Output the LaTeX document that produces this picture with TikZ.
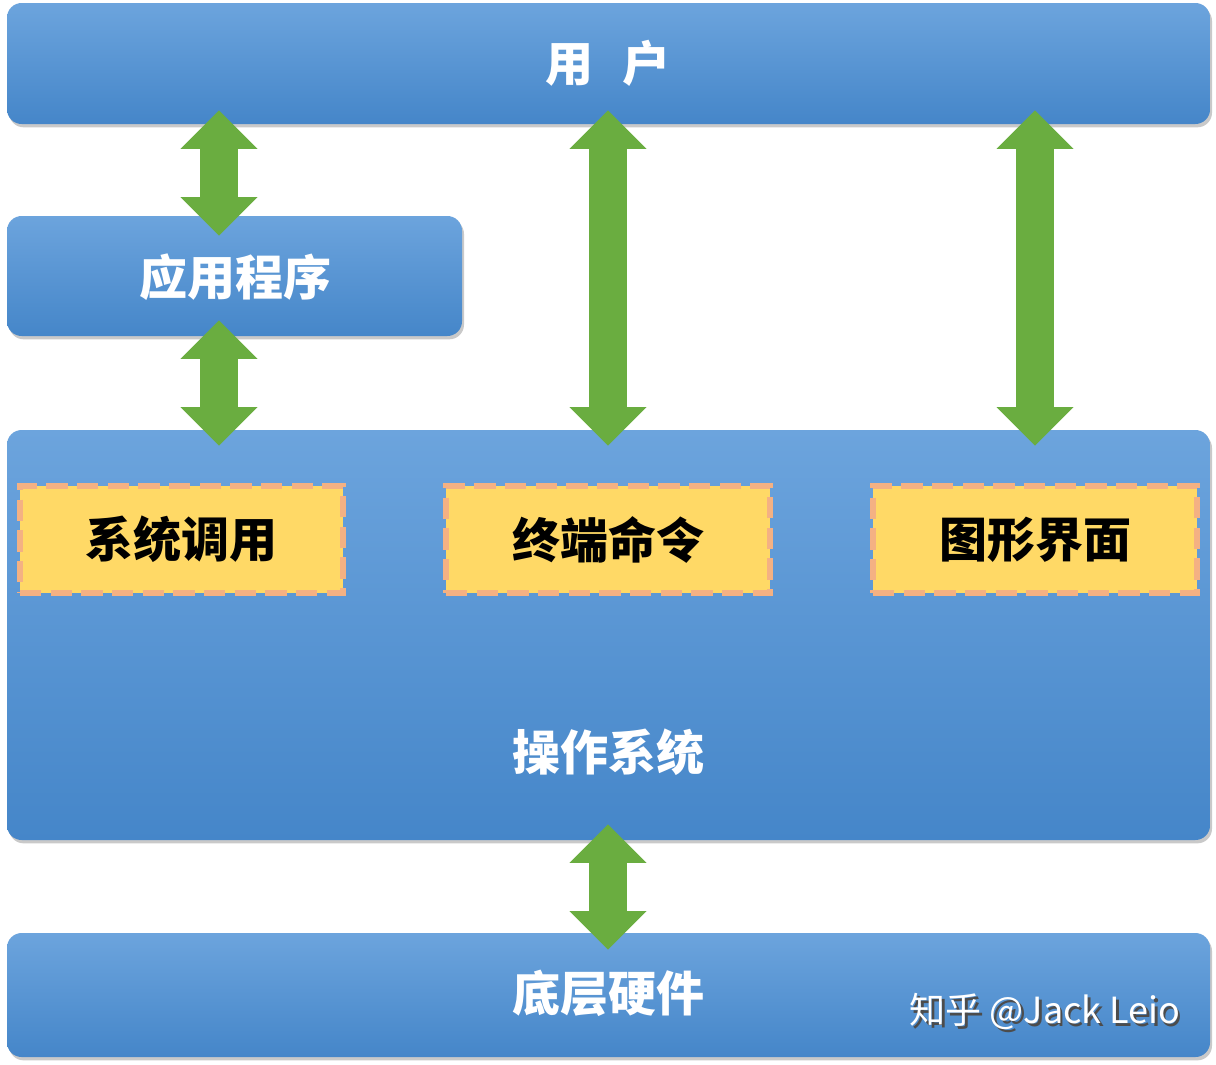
\documentclass[tikz,border=0pt]{standalone}
\usepackage{fontspec}
\newfontfamily\cjk{Noto Sans CJK SC}
\usetikzlibrary{arrows.meta,shadows,fit,calc}
\definecolor{bluetop}{HTML}{6CA4DD}
\definecolor{bluebot}{HTML}{4586C9}
\definecolor{gold}{HTML}{FFD966}
\definecolor{dashorange}{HTML}{F4B183}
\definecolor{arrowgreen}{HTML}{6AAD40}
\begin{document}
\begin{tikzpicture}[x=0.75pt,y=-0.75pt,
  bluebox/.style={rounded corners=11pt, top color=bluetop, bottom color=bluebot, draw=none, inner sep=0pt,
    drop shadow={shadow xshift=1.5pt, shadow yshift=-2.5pt, opacity=0.35, fill=black!60}},
  goldbox/.style={fill=gold, draw=dashorange, line width=5pt, dash pattern=on 16pt off 7pt, inner sep=0pt},
  whitetxt/.style={text=white, font=\cjk\bfseries\fontsize{36pt}{40pt}\selectfont},
  blacktxt/.style={text=black, font=\cjk\bfseries\fontsize{36pt}{40pt}\selectfont},
  garrow/.style={draw=arrowgreen, line width=28.5pt,
    {Triangle[width=56pt,length=29pt]}-{Triangle[width=56pt,length=29pt]}},
]
\useasboundingbox (0,0) rectangle (1216,1064);
\fill[white] (0,0) rectangle (1216,1064);

% boxes
\node[bluebox, fit={(7,3) (1210,124)}] (user) {};
\node[bluebox, fit={(7,216) (462,336)}] (app) {};
\node[bluebox, fit={(7,430) (1210,840)}] (os) {};
\node[bluebox, fit={(7,933) (1210,1057)}] (hw) {};

\node[goldbox, fit={(20,486) (343,593)}] (sys) {};
\node[goldbox, fit={(446,486) (770,593)}] (term) {};
\node[goldbox, fit={(873,486) (1197,593)}] (gui) {};

% labels
\node[whitetxt] (userl) at (608,63) {用\hspace{0.6em}户};
\node[whitetxt] (appl) at (235,277) {应用程序};
\node[whitetxt] (osl) at (608,752) {操作系统};
\node[whitetxt] (hwl) at (608,993) {底层硬件};
\node[blacktxt] (sysl) at (sys) {系统调用};
\node[blacktxt] (terml) at (term) {终端命令};
\node[blacktxt] (guil) at (gui) {图形界面};

% watermark (white text with a dark shadow)
\node[text=white, font=\cjk\fontsize{27pt}{30pt}\selectfont] (wm) at (1045,1013)
  {\rlap{\hspace{1.8pt}\raisebox{-1.8pt}{\textcolor{black!70}{知乎 @Jack Leio}}}知乎 @Jack Leio};

% arrows
\coordinate (ca) at (219,0);
\coordinate (cb) at (608,0);
\coordinate (cc) at (1035,0);
\draw[garrow, shorten <=-10.5pt, shorten >=-15pt] (ca |- user.south) -- (ca |- app.north);
\draw[garrow, shorten <=-12pt, shorten >=-12pt] (ca |- app.south) -- (ca |- os.north);
\draw[garrow, shorten <=-10.5pt, shorten >=-12pt] (cb |- user.south) -- (cb |- os.north);
\draw[garrow, shorten <=-10.5pt, shorten >=-12pt] (cc |- user.south) -- (cc |- os.north);
\draw[garrow, shorten <=-12pt, shorten >=-12.75pt] (cb |- os.south) -- (cb |- hw.north);
\end{tikzpicture}
\end{document}
